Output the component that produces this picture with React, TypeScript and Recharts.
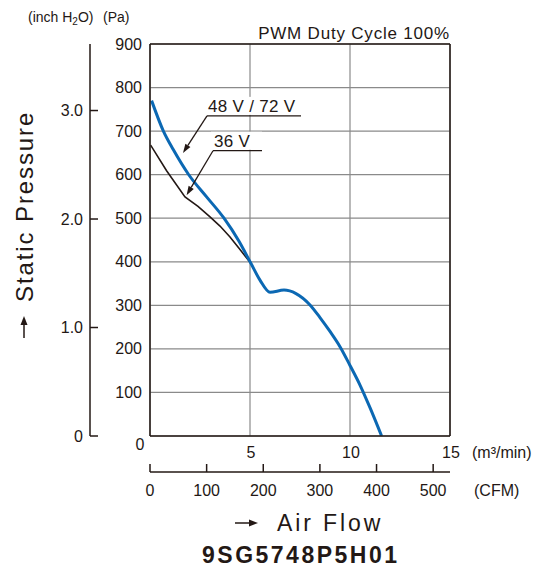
import { CartesianGrid, Line, LineChart, ReferenceLine, XAxis, YAxis } from "recharts";

// 48 V / 72 V curve (blue), m3/min vs Pa
const flow4872 = [0.08, 0.67, 1.17, 1.92, 2.83, 3.7, 4.45, 5.05, 5.5, 6.0, 6.7, 7.3, 8.0, 8.5, 9.0, 9.5, 10.0, 10.5, 11.0, 11.58];
const pressure4872 = [770, 700, 657, 601, 549, 500, 447, 396, 358, 330, 335, 327, 301, 272, 240, 205, 162, 117, 65, 0];

// 36 V curve (black), merges into the blue one near 5 m3/min
const flow36 = [0.03, 0.83, 1.75, 2.4, 3.0, 3.5, 4.0, 4.5, 5.05];
const pressure36 = [668, 609, 549, 527, 503, 482, 457, 428, 396];

const flowTicks = [5, 10, 15];
const cfmTicks = [0, 100, 200, 300, 400, 500];
const paTicks = [0, 100, 200, 300, 400, 500, 600, 700, 800, 900];
const inchTicks = [0, 1, 2, 3];

// callouts: label, underline start/end, arrow tip (data units)
const callouts = [
  { label: "48 V / 72 V", from: [2.85, 735], to: [7.55, 735], tip: [1.65, 650] },
  { label: "36 V", from: [3.15, 655], to: [5.6, 655], tip: [1.83, 553] },
];

const CFM_PER_M3MIN = 35.3147;
const PA_PER_INCH = 249.089;

const ink = "#231815";
const blue = "#0b68b3";
const font = "'Liberation Sans', Arial, sans-serif";

const series4872 = flow4872.map((x, i) => ({ x, p: pressure4872[i] }));
const series36 = flow36.map((x, i) => ({ x, p: pressure36[i] }));
// same curve in CFM units, only so the CFM axis has something to scale
const seriesCfm = flow4872.map((x, i) => ({ x: x * CFM_PER_M3MIN, p: pressure4872[i] }));

function PaTick({ x, y, payload }: any) {
  if (payload.value === 0) {
    return (
      <text x={x - 10} y={y + 8} dy="0.35em" textAnchor="middle" fill={ink} fontSize={16} fontFamily={font}>
        0
      </text>
    );
  }
  return (
    <text x={x - 8} y={y} dy="0.35em" textAnchor="end" fill={ink} fontSize={16} fontFamily={font}>
      {payload.value}
    </text>
  );
}

function InchTick({ x, y, payload }: any) {
  const label = payload.value === 0 ? "0" : payload.value.toFixed(1);
  return (
    <g>
      <line x1={x} x2={x + 8} y1={y} y2={y} stroke={ink} strokeWidth={1.5} />
      <text x={x - 7} y={y} dy="0.35em" textAnchor="end" fill={ink} fontSize={16} fontFamily={font}>
        {label}
      </text>
    </g>
  );
}

function FlowTick({ x, y, payload }: any) {
  return (
    <text x={x + 1} y={y + 16} dy="0.35em" textAnchor="middle" fill={ink} fontSize={16} fontFamily={font}>
      {payload.value}
    </text>
  );
}

function CfmTick({ x, y, payload }: any) {
  return (
    <g>
      <line x1={x} x2={x} y1={y - 8} y2={y} stroke={ink} strokeWidth={1.5} />
      <text x={x} y={y + 18} dy="0.35em" textAnchor="middle" fill={ink} fontSize={16} fontFamily={font}>
        {payload.value}
      </text>
    </g>
  );
}

function Underline({ x1, y1, x2, y2, label }: any) {
  return (
    <g>
      <rect x={x1 - 2} y={y1 - 19} width={x2 - x1 + 2} height={18} fill="#fff" />
      <text x={x1 + 1} y={y1 - 4} fill={ink} fontSize={17} fontFamily={font} letterSpacing={0.3}>
        {label}
      </text>
      <line x1={x1} y1={y1} x2={x2} y2={y2} stroke={ink} strokeWidth={1.3} />
    </g>
  );
}

function Arrow({ x1, y1, x2, y2 }: any) {
  const dx = x2 - x1;
  const dy = y2 - y1;
  const len = Math.sqrt(dx * dx + dy * dy);
  const ux = dx / len;
  const uy = dy / len;
  const bx = x2 - ux * 9;
  const by = y2 - uy * 9;
  const head = `${x2},${y2} ${bx - uy * 3},${by + ux * 3} ${bx + uy * 3},${by - ux * 3}`;
  return (
    <g>
      <line x1={x1} y1={y1} x2={bx} y2={by} stroke={ink} strokeWidth={1.3} />
      <polygon points={head} fill={ink} />
    </g>
  );
}

export default function App() {
  return (
    <div style={{ position: "absolute", left: 0, top: 0, width: 541, height: 578, background: "#fff" }}>
      <LineChart width={541} height={578} margin={{ top: 44, right: 91, bottom: 76, left: 0 }}>
        <CartesianGrid stroke="#8a8a8a" strokeWidth={1.2} />
        <XAxis
          type="number"
          dataKey="x"
          domain={[0, 15]}
          ticks={flowTicks}
          interval={0}
          allowDataOverflow
          height={36}
          tickSize={0}
          tickMargin={0}
          tickLine={false}
          axisLine={{ stroke: ink, strokeWidth: 1.5 }}
          tick={<FlowTick />}
        />
        <XAxis
          xAxisId="cfm"
          type="number"
          dataKey="x"
          domain={[0, 15 * CFM_PER_M3MIN]}
          ticks={cfmTicks}
          interval={0}
          allowDataOverflow
          height={30}
          tickSize={0}
          tickMargin={0}
          tickLine={false}
          axisLine={{ stroke: ink, strokeWidth: 1.5 }}
          tick={<CfmTick />}
        />
        <YAxis
          type="number"
          domain={[0, 900]}
          ticks={paTicks}
          interval={0}
          allowDataOverflow
          width={60}
          tickSize={0}
          tickMargin={0}
          tickLine={false}
          axisLine={{ stroke: ink, strokeWidth: 1.5 }}
          tick={<PaTick />}
        />
        <YAxis
          yAxisId="inch"
          type="number"
          domain={[0, 900 / PA_PER_INCH]}
          ticks={inchTicks}
          interval={0}
          allowDataOverflow
          width={90}
          tickSize={0}
          tickMargin={0}
          tickLine={false}
          axisLine={{ stroke: ink, strokeWidth: 1.5 }}
          tick={<InchTick />}
        />
        <ReferenceLine y={900} stroke={ink} strokeWidth={1.5} />
        <ReferenceLine x={15} stroke={ink} strokeWidth={1.5} />
        <Line
          xAxisId="cfm"
          data={seriesCfm}
          dataKey="p"
          stroke="none"
          strokeOpacity={0}
          dot={false}
          activeDot={false}
          legendType="none"
          isAnimationActive={false}
        />
        <Line
          data={series36}
          dataKey="p"
          type="linear"
          stroke={ink}
          strokeWidth={1.6}
          dot={false}
          activeDot={false}
          isAnimationActive={false}
        />
        <Line
          data={series4872}
          dataKey="p"
          type="monotone"
          stroke={blue}
          strokeWidth={3}
          dot={false}
          activeDot={false}
          isAnimationActive={false}
        />
        {callouts.map((c) => (
          <ReferenceLine
            key={c.label + "-u"}
            segment={[
              { x: c.from[0], y: c.from[1] },
              { x: c.to[0], y: c.to[1] },
            ]}
            shape={(p: any) => <Underline {...p} label={c.label} />}
          />
        ))}
        {callouts.map((c) => (
          <ReferenceLine
            key={c.label + "-a"}
            segment={[
              { x: c.from[0], y: c.from[1] },
              { x: c.tip[0], y: c.tip[1] },
            ]}
            shape={(p: any) => <Arrow {...p} />}
          />
        ))}
      </LineChart>
      <svg
        width={541}
        height={578}
        style={{ position: "absolute", left: 0, top: 0, pointerEvents: "none" }}
        fontFamily={font}
        fill={ink}
      >
        <text x={28} y={22} fontSize={14}>
          (inch H<tspan fontSize={10} dy={3}>2</tspan>
          <tspan dy={-3}>O)</tspan>
        </text>
        <text x={103} y={22} fontSize={14}>
          (Pa)
        </text>
        <text x={450} y={39} fontSize={17} textAnchor="end" letterSpacing={0.8}>
          PWM Duty Cycle 100%
        </text>
        <text x={472} y={458} fontSize={16}>
          (m³/min)
        </text>
        <text x={474} y={496} fontSize={16}>
          (CFM)
        </text>
        <text x={33} y={302} fontSize={24} letterSpacing={1.9} transform="rotate(-90 33 302)">
          Static Pressure
        </text>
        <line x1={24} y1={338} x2={24} y2={324} stroke={ink} strokeWidth={1.5} />
        <polygon points="24,316 20.5,325 27.5,325" fill={ink} />
        <line x1={235} y1={523} x2={250} y2={523} stroke={ink} strokeWidth={1.5} />
        <polygon points="258,523 249,519.5 249,526.5" fill={ink} />
        <text x={277} y={531} fontSize={23} letterSpacing={2.9}>
          Air Flow
        </text>
        <text x={202} y={563} fontSize={23} fontWeight="bold" letterSpacing={2.5}>
          9SG5748P5H01
        </text>
      </svg>
    </div>
  );
}
